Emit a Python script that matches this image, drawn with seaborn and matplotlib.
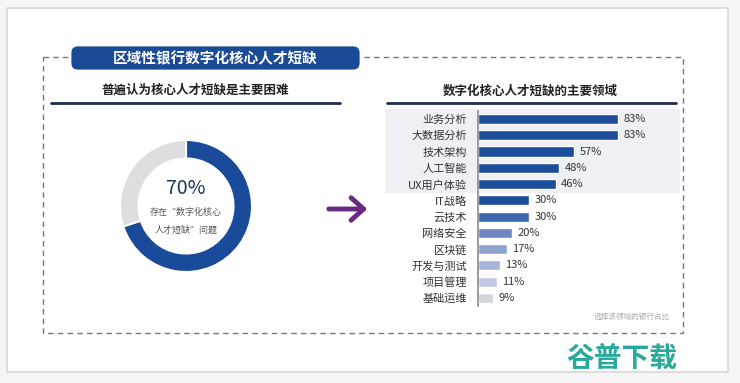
import matplotlib.pyplot as plt
import matplotlib.patches as mpatches
import seaborn as sns
import pandas as pd

# data
areas = ["业务分析", "大数据分析", "技术架构", "人工智能", "UX用户体验", "IT战略",
         "云技术", "网络安全", "区块链", "开发与测试", "项目管理", "基础运维"]
shares = [83, 83, 57, 48, 46, 30, 30, 20, 17, 13, 11, 9]
bar_colors = ["#1b4d9b", "#1b4d9b", "#1b4d9b", "#1b4d9b", "#1b4d9b", "#1b4d9b",
              "#3c67ae", "#6c87c1", "#8fa3d1", "#a9b4da", "#c1c8e4", "#d3d5de"]

donut_values = [70, 30]
donut_colors = ["#1a4a9a", "#dedede"]

sns.set_theme(style="white")
plt.rcParams['font.family'] = ['Noto Sans CJK SC', 'DejaVu Sans']

W, H = 740, 383
fig = plt.figure(figsize=(W / 100, H / 100), dpi=100, facecolor="#f5f5f5")

# background layer in pixel coordinates
bg = fig.add_axes([0, 0, 1, 1])
bg.set_xlim(0, W)
bg.set_ylim(H, 0)
bg.axis("off")

bg.add_patch(mpatches.Rectangle((7, 8), 721, 364, facecolor="white",
                                edgecolor="#d8d8d8", lw=1.2))
bg.add_patch(mpatches.Rectangle((43, 57), 640, 276, fill=False,
                                edgecolor="#777777", lw=1, ls=(0, (4, 3))))
bg.add_patch(mpatches.FancyBboxPatch((70, 45), 291, 26,
                                     boxstyle="round,pad=0,rounding_size=8",
                                     facecolor="#1b4a96", edgecolor="white",
                                     lw=2, zorder=3))
bg.text(215, 58, "区域性银行数字化核心人才短缺", color="white", fontsize=10.5,
        fontweight="bold", ha="center", va="center", zorder=4)

# section headers
bg.text(195, 90, "普遍认为核心人才短缺是主要困难", fontsize=9, fontweight="bold",
        color="#222222", ha="center", va="center")
bg.plot([51, 340], [103, 103], color="#1f2f4f", lw=2)
bg.text(530, 91, "数字化核心人才短缺的主要领域", fontsize=9, fontweight="bold",
        color="#222222", ha="center", va="center")
bg.plot([387, 676], [103, 103], color="#1f2f4f", lw=2)

# shaded band behind the top five rows
bg.add_patch(mpatches.Rectangle((385, 109), 295, 84, facecolor="#eef0f5",
                                edgecolor="none"))

# arrow
bg.annotate("", xy=(370, 209), xytext=(326, 209),
            arrowprops=dict(arrowstyle="->,head_length=0.5,head_width=0.45",
                            lw=3.5, color="#6a2a82", mutation_scale=18,
                            capstyle="round", joinstyle="round"))

bg.text(670, 317, "选择该领域的银行占比", fontsize=5.5, color="#aaaaaa",
        ha="right", va="center")
bg.text(622, 359, "谷普下载", fontsize=20, fontweight="heavy", color="#27a99c",
        ha="center", va="center")

# donut
cx, cy, r = 186, 206, 66
ax_d = fig.add_axes([(cx - r) / W, 1 - (cy + r) / H, 2 * r / W, 2 * r / H])
ax_d.pie(donut_values, colors=donut_colors, startangle=90, counterclock=False,
         radius=1, wedgeprops=dict(width=0.28, edgecolor="white", lw=1.5))
ax_d.set_xlim(-1, 1)
ax_d.set_ylim(-1, 1)
ax_d.axis("off")
bg.text(cx, 188, "70%", fontsize=14, fontweight="medium", color="#1d3560",
        ha="center", va="center")
bg.text(cx, 212, "存在“数字化核心", fontsize=6.5, color="#555555",
        ha="center", va="center")
bg.text(cx, 230, "人才短缺”问题", fontsize=6.5, color="#555555",
        ha="center", va="center")

# horizontal bars
df = pd.DataFrame({"area": areas, "share": shares})
x0, px_per_pct = 478, 1.687
row_top, row_step = 119, 16.27
top = row_top - row_step / 2
bottom = row_top + row_step * 11 + row_step / 2
ax_b = fig.add_axes([x0 / W, 1 - bottom / H, 200 / W, (bottom - top) / H])
ax_b.patch.set_alpha(0)
sns.barplot(data=df, y="area", x="share", hue="area", palette=bar_colors,
            saturation=1, legend=False, orient="h", width=0.62, ax=ax_b)
ax_b.set_xlim(0, 200 / px_per_pct)
ax_b.set_ylim(11.5, -0.5)
for c in ax_b.containers:
    ax_b.bar_label(c, fmt="%d%%", padding=4, fontsize=8, color="#333333")
ax_b.set_xlabel("")
ax_b.set_ylabel("")
ax_b.set_xticks([])
ax_b.tick_params(axis="y", length=0, pad=8, labelsize=8, labelcolor="#333333")
for s in ["top", "right", "bottom"]:
    ax_b.spines[s].set_visible(False)
ax_b.spines["left"].set_color("#8a8a8a")
ax_b.spines["left"].set_linewidth(1.2)

fig.savefig("out.png", dpi=100, facecolor=fig.get_facecolor())
